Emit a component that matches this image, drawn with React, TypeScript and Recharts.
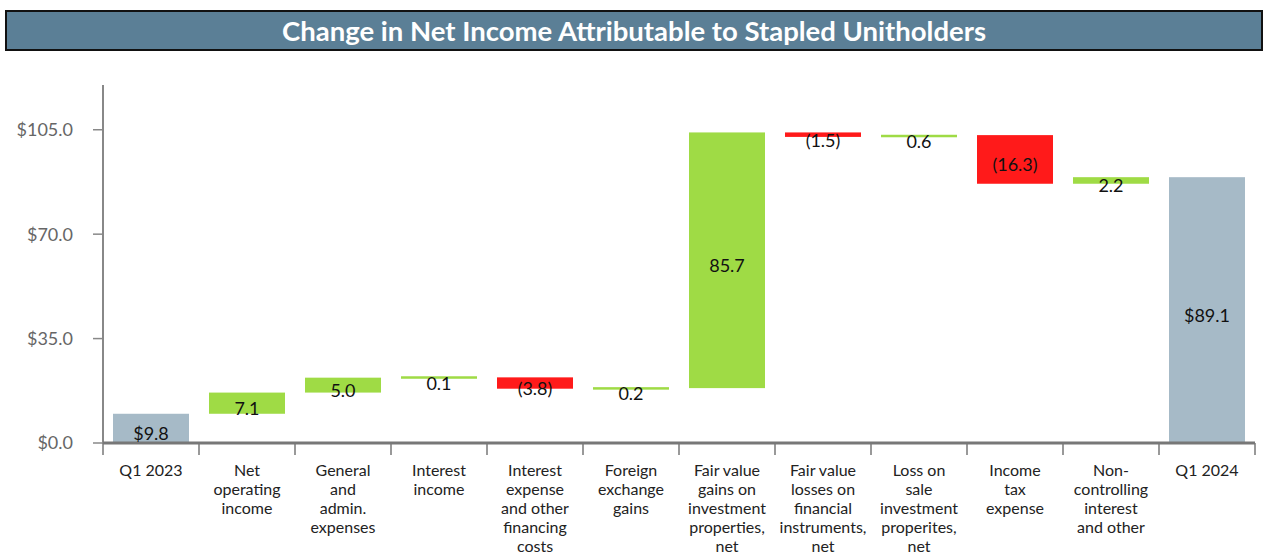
import React from "react";
import { BarChart, Bar, XAxis, YAxis, LabelList, Cell } from "recharts";

// Valores del gráfico (millones)
const CATEGORIES = [
  "Q1 2023",
  "Net\noperating\nincome",
  "General\nand\nadmin.\nexpenses",
  "Interest\nincome",
  "Interest\nexpense\nand other\nfinancing\ncosts",
  "Foreign\nexchange\ngains",
  "Fair value\ngains on\ninvestment\nproperties,\nnet",
  "Fair value\nlosses on\nfinancial\ninstruments,\nnet",
  "Loss on\nsale\ninvestment\nproperites,\nnet",
  "Income\ntax\nexpense",
  "Non-\ncontrolling\ninterest\nand other",
  "Q1 2024",
];
const CHANGES = [9.8, 7.1, 5.0, 0.1, -3.8, 0.2, 85.7, -1.5, 0.6, -16.3, 2.2, 89.1];
const IS_TOTAL = [true, false, false, false, false, false, false, false, false, false, false, true];
const Y_TICKS = [0, 35, 70, 105];

const W = 1267;
const H = 556;
const PLOT_LEFT = 103;
const PLOT_RIGHT = 12;
const BAND = (W - PLOT_LEFT - PLOT_RIGHT) / CATEGORIES.length;

const GREEN = "#9fdb45";
const RED = "#ff1a1a";
const TOTAL = "#a6bac7";
const FONT = "Lato, 'Open Sans', sans-serif";

function buildRows() {
  let run = 0;
  return CATEGORIES.map((name, i) => {
    const v = CHANGES[i];
    let range: [number, number];
    if (IS_TOTAL[i]) {
      range = [0, v];
      run = v;
    } else {
      const next = run + v;
      range = [Math.min(run, next), Math.max(run, next)];
      run = next;
    }
    return { name, range, value: v, total: IS_TOTAL[i] };
  });
}
const rows = buildRows();

const fmtLabel = (v: number, total: boolean) =>
  total ? `$${v.toFixed(1)}` : v < 0 ? `(${Math.abs(v).toFixed(1)})` : v.toFixed(1);

function MinBar(props: any) {
  const { x, y, width, height, fill } = props;
  const h = Math.max(Math.abs(height), 2.5);
  const top = y + height / 2 - h / 2;
  return <rect x={x} y={top} width={width} height={h} fill={fill} />;
}

function XTick(props: any) {
  const { x, y, payload, index } = props;
  const lines = String(payload.value).split("\n");
  const isLast = index === CATEGORIES.length - 1;
  return (
    <g>
      <line x1={x - BAND / 2} x2={x - BAND / 2} y1={y - 8} y2={y + 4} stroke="#777" strokeWidth={1.5} />
      {isLast && (
        <line x1={x + BAND / 2} x2={x + BAND / 2} y1={y - 8} y2={y + 4} stroke="#777" strokeWidth={1.5} />
      )}
      <text x={x} y={y + 25} textAnchor="middle" fontSize={16} fill="#222" fontFamily={FONT}>
        {lines.map((l, i) => (
          <tspan key={i} x={x} dy={i === 0 ? 0 : 19}>
            {l}
          </tspan>
        ))}
      </text>
    </g>
  );
}

function BarLabel(props: any) {
  const { x, y, width, height, index } = props;
  const r = rows[index];
  return (
    <text
      x={x + width / 2}
      y={y + height / 2 + 5}
      textAnchor="middle"
      dominantBaseline="central"
      fontSize={18}
      fill="#111"
      fontFamily={FONT}
    >
      {fmtLabel(r.value, r.total)}
    </text>
  );
}

export default function App() {
  return (
    <div style={{ position: "absolute", left: 0, top: 0, width: W, height: H, background: "#fff" }}>
      <div
        style={{
          position: "absolute",
          left: 5,
          top: 10,
          width: 1254,
          height: 37,
          background: "#5b7f96",
          border: "2px solid #111",
          color: "#fff",
          fontFamily: FONT,
          fontWeight: 700,
          fontSize: 27.5,
          lineHeight: "37px",
          textAlign: "center",
        }}
      >
        Change in Net Income Attributable to Stapled Unitholders
      </div>
      <BarChart
        width={W}
        height={H}
        data={rows}
        barCategoryGap={10}
        margin={{ top: 85, right: PLOT_RIGHT, left: PLOT_LEFT - 90, bottom: 0 }}
      >
        <YAxis
          width={90}
          domain={[0, 120]}
          ticks={Y_TICKS}
          tickFormatter={(v: number) => `$${v.toFixed(1)}`}
          tick={{ fontSize: 18, fill: "#666", fontFamily: FONT }}
          axisLine={{ stroke: "#888", strokeWidth: 2 }}
          tickLine={{ stroke: "#888", strokeWidth: 1.5 }}
          tickSize={10}
          tickMargin={20}
        />
        <XAxis
          dataKey="name"
          height={113}
          interval={0}
          axisLine={{ stroke: "#777", strokeWidth: 3 }}
          tickLine={false}
          tick={<XTick />}
        />
        <Bar dataKey="range" shape={<MinBar />} isAnimationActive={false}>
          {rows.map((r, i) => (
            <Cell key={i} fill={r.total ? TOTAL : r.value < 0 ? RED : GREEN} />
          ))}
          <LabelList dataKey="value" content={<BarLabel />} />
        </Bar>
      </BarChart>
    </div>
  );
}
